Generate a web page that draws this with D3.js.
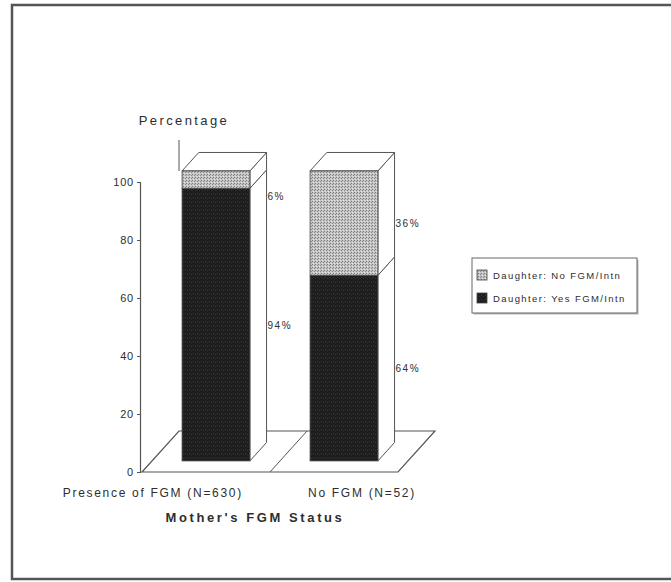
<!DOCTYPE html>
<html>
<head>
<meta charset="utf-8">
<script src="https://cdn.jsdelivr.net/npm/d3@7/dist/d3.min.js"></script>
<style>
  html, body { margin: 0; padding: 0; background: #fff; }
  svg { display: block; font-family: "Liberation Sans", Arial, sans-serif; }
</style>
</head>
<body>
<svg id="chart" width="671" height="582"></svg>
<script>
// Mother's FGM status vs. daughter's status (stacked percentages)
const categories = ["Presence of FGM (N=630)", "No FGM (N=52)"];
const seriesNames = ["Daughter: Yes FGM/Intn", "Daughter: No FGM/Intn"];
const yesValues = [94, 64];
const noValues = [6, 36];
const yTicks = [0, 20, 40, 60, 80, 100];
const axisTitle = "Percentage";
const xTitle = "Mother's FGM Status";

const svg = d3.select("#chart");
const defs = svg.append("defs");

// Fill textures: dark grainy and light dotted
const dark = defs.append("pattern").attr("id", "darkFill")
  .attr("width", 4).attr("height", 4).attr("patternUnits", "userSpaceOnUse");
dark.append("rect").attr("width", 4).attr("height", 4).attr("fill", "#1e1e1e");
dark.append("rect").attr("x", 1).attr("y", 1).attr("width", 1).attr("height", 1).attr("fill", "#3a3a3a");
dark.append("rect").attr("x", 3).attr("y", 2).attr("width", 1).attr("height", 1).attr("fill", "#333");

const light = defs.append("pattern").attr("id", "lightFill")
  .attr("width", 3).attr("height", 3).attr("patternUnits", "userSpaceOnUse");
light.append("rect").attr("width", 3).attr("height", 3).attr("fill", "#c4c4c4");
light.append("rect").attr("x", 0).attr("y", 0).attr("width", 1).attr("height", 1).attr("fill", "#7a7a7a");
light.append("rect").attr("x", 2).attr("y", 1).attr("width", 1).attr("height", 1).attr("fill", "#8a8a8a");
light.append("rect").attr("x", 1).attr("y", 2).attr("width", 1).attr("height", 1).attr("fill", "#e6e6e6");

// Outer frame
svg.append("path")
  .attr("d", "M671,5 L12,5 L12,579 L671,579")
  .attr("fill", "none").attr("stroke", "#555").attr("stroke-width", 2.5);

// Scales (front plane) and depth projection
const y = d3.scaleLinear().domain([0, 100]).range([472, 182]);
const xBand = d3.scaleBand().domain(categories).range([142, 398]).paddingInner(0).paddingOuter(0);
const xBar = d3.scaleBand().domain(categories).range([142, 398]).paddingInner(0.47).paddingOuter(0.235);
const depth = [37, -41];
const dFront = 0.27, dBack = 0.72;
const P = (x, v, d) => [x + d * depth[0], y(v) + d * depth[1]];
const poly = pts => "M" + pts.map(p => p.join(",")).join("L") + "Z";

const lineColor = "#555";
const textColor = "#2e2e2e";
const g = svg.append("g");

// Floor
const x0 = xBand.range()[0], x1 = xBand.range()[1];
g.append("path")
  .attr("d", poly([P(x0, 0, 0), P(x1, 0, 0), P(x1, 0, 1), P(x0, 0, 1)]))
  .attr("fill", "#fff").attr("stroke", lineColor).attr("stroke-width", 1.2);
// floor divider between categories
categories.slice(1).forEach(c => {
  const xs = xBand(c);
  g.append("line")
    .attr("x1", P(xs, 0, 0)[0]).attr("y1", P(xs, 0, 0)[1])
    .attr("x2", P(xs, 0, 1)[0]).attr("y2", P(xs, 0, 1)[1])
    .attr("stroke", lineColor).attr("stroke-width", 1);
});

// Axis title leader on back wall
const backTop = P(x0, 100, 1);
g.append("line")
  .attr("x1", backTop[0]).attr("x2", backTop[0])
  .attr("y1", 140).attr("y2", P(x0, 100, dFront)[1])
  .attr("stroke", lineColor).attr("stroke-width", 1);

// Y axis
const axis = d3.axisLeft(y).tickValues(yTicks).tickSize(3).tickPadding(3);
const axG = svg.append("g").attr("transform", "translate(140,0)").call(axis);
axG.select(".domain").attr("stroke", lineColor).attr("stroke-width", 1.2);
axG.selectAll(".tick line").attr("stroke", lineColor);
axG.selectAll(".tick text").attr("font-size", 11).attr("fill", textColor)
  .attr("letter-spacing", 0.8)
  .attr("font-family", "Liberation Sans, Arial, sans-serif");

// Bars
categories.forEach((c, i) => {
  const segs = [
    { v0: 0, v1: yesValues[i], fill: "url(#darkFill)" },
    { v0: yesValues[i], v1: yesValues[i] + noValues[i], fill: "url(#lightFill)" }
  ];
  const xl = xBar(c), xr = xBar(c) + xBar.bandwidth();
  const bg = g.append("g");
  segs.forEach(s => {
    // right side face
    bg.append("path")
      .attr("d", poly([P(xr, s.v0, dFront), P(xr, s.v0, dBack), P(xr, s.v1, dBack), P(xr, s.v1, dFront)]))
      .attr("fill", "#fff").attr("stroke", lineColor).attr("stroke-width", 1);
  });
  const top = yesValues[i] + noValues[i];
  bg.append("path")
    .attr("d", poly([P(xl, top, dFront), P(xr, top, dFront), P(xr, top, dBack), P(xl, top, dBack)]))
    .attr("fill", "#fff").attr("stroke", lineColor).attr("stroke-width", 1);
  segs.forEach(s => {
    const a = P(xl, s.v1, dFront), b = P(xr, s.v0, dFront);
    bg.append("rect")
      .attr("x", a[0]).attr("y", a[1])
      .attr("width", b[0] - a[0]).attr("height", b[1] - a[1])
      .attr("fill", s.fill).attr("stroke", "#444").attr("stroke-width", 0.8);
  });
  // value labels beside each bar
  const labX = P(xr, 0, dBack)[0] + 1;
  segs.forEach(s => {
    const yTop = P(xl, s.v1, dFront)[1], yBot = P(xl, s.v0, dFront)[1];
    const yl = Math.max((yTop + yBot) / 2, yTop + 25);
    svg.append("text")
      .attr("x", labX).attr("y", yl + 4)
      .attr("font-size", 10).attr("letter-spacing", 1.5).attr("fill", textColor)
      .text(Math.round(s.v1 - s.v0) + "%");
  });
});

// Category labels flanking the gap between bars
categories.forEach((c, i) => {
  const xl = xBar(c) + dFront * depth[0];
  const xr = xl + xBar.bandwidth();
  svg.append("text")
    .attr("x", i === 0 ? xr - 7 : xl - 2)
    .attr("y", 497)
    .attr("text-anchor", i === 0 ? "end" : "start")
    .attr("font-size", 12).attr("letter-spacing", 1.7).attr("fill", textColor)
    .text(c);
});

// Titles
svg.append("text").attr("x", 184).attr("y", 125)
  .attr("text-anchor", "middle").attr("font-size", 13).attr("letter-spacing", 2.4).attr("fill", textColor)
  .text(axisTitle);
svg.append("text").attr("x", 255).attr("y", 522)
  .attr("text-anchor", "middle").attr("font-size", 13).attr("letter-spacing", 2.6)
  .attr("font-weight", "bold").attr("fill", textColor)
  .text(xTitle);

// Legend
const lg = svg.append("g").attr("transform", "translate(472,258)");
lg.append("rect").attr("x", 1.5).attr("y", 1.5).attr("width", 165).attr("height", 55)
  .attr("fill", "#bbb");
lg.append("rect").attr("width", 165).attr("height", 55)
  .attr("fill", "#fff").attr("stroke", "#666").attr("stroke-width", 1);
const legendItems = [
  { name: seriesNames[1], fill: "url(#lightFill)" },
  { name: seriesNames[0], fill: "url(#darkFill)" }
];
legendItems.forEach((d, i) => {
  const yy = 12 + i * 23;
  lg.append("rect").attr("x", 5).attr("y", yy).attr("width", 10).attr("height", 10)
    .attr("fill", d.fill).attr("stroke", "#444").attr("stroke-width", 0.8);
  lg.append("text").attr("x", 21).attr("y", yy + 8.5)
    .attr("font-size", 9.5).attr("letter-spacing", 1.4).attr("fill", textColor).text(d.name);
});
</script>
</body>
</html>
